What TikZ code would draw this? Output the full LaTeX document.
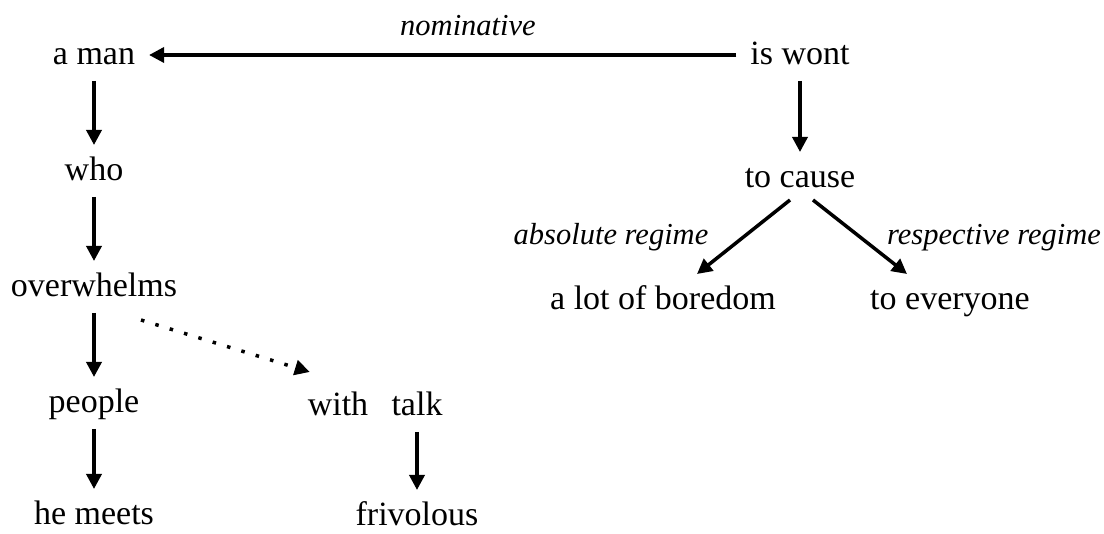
\documentclass[tikz,border=0pt]{standalone}
\usepackage{fontspec}
\setmainfont{Liberation Serif}
\usetikzlibrary{positioning,arrows.meta}

\begin{document}
\begin{tikzpicture}[x=1pt,y=-1pt,node distance=116pt,
  word/.style={font=\fontsize{34}{40}\selectfont,inner sep=0pt,text height=26pt,text depth=6pt,outer xsep=14pt,outer ysep=10pt},
  rel/.style={font=\fontsize{30.5}{36}\selectfont\itshape,inner sep=0pt,anchor=base},
  dep/.style={-{Triangle[length=15pt,width=15pt]},line width=3.5pt},
  weak/.style={dep,dash pattern=on 3.5pt off 11.5pt}]
  \useasboundingbox (0,0) rectangle (1104,534);
  % left branch
  \node[word] (man) at (94,55) {a man};
  \node[word] (who) [below of=man] {who};
  \node[word] (overwhelms) [below of=who] {overwhelms};
  \node[word] (people) [below of=overwhelms] {people};
  \node[word] (meets) [below of=people,yshift=4pt] {he meets};
  \node[word] (with) at (338,406) {with};
  \node[word] (talk) at (417,406) {talk};
  \node[word] (frivolous) at (417,516) {frivolous};
  % right branch
  \node[word] (wont) at (800,55) {is wont};
  \node[word] (cause) at (800,178) {to cause};
  \node[word] (boredom) at (663,300) {a lot of boredom};
  \node[word] (everyone) at (950,300) {to everyone};
  % relation labels
  \node[rel] (nom) at (468,36) {nominative};
  \node[rel] (abs) at (611,245) {absolute regime};
  \node[rel] (resp) at (994,245) {respective regime};
  \draw[dep] (wont) -- (man);
  \draw[dep] (man) -- (who);
  \draw[dep] (who) -- (overwhelms);
  \draw[dep] (overwhelms) -- (people);
  \draw[dep] (people) -- (meets);
  \draw[weak] ([xshift=47pt,yshift=-7pt]overwhelms.south) -- ([xshift=16pt,yshift=8pt]with.north west);
  \draw[dep] (talk) -- (frivolous);
  \draw[dep] (wont) -- (cause);
  \draw[dep] ([xshift=-10pt,yshift=4pt]cause.south) -- ([xshift=34pt]boredom.north);
  \draw[dep] ([xshift=13pt,yshift=4pt]cause.south) -- ([xshift=-43pt]everyone.north);
\end{tikzpicture}
\end{document}
